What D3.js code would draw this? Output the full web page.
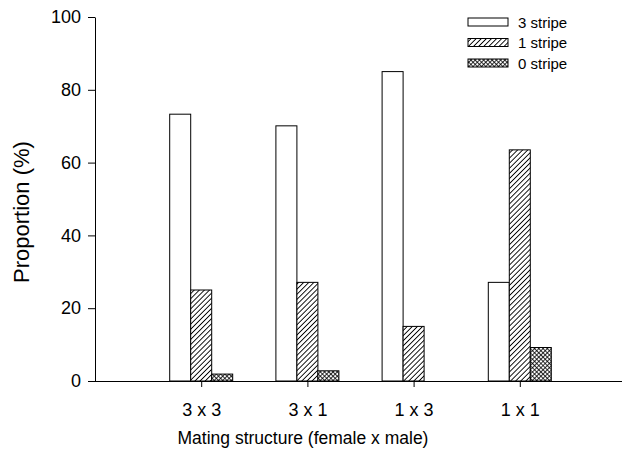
<!DOCTYPE html>
<html><head><meta charset="utf-8">
<script src="https://cdn.jsdelivr.net/npm/d3@7"></script>
<style>body{margin:0;background:#fff}svg{display:block}text{font-family:"Liberation Sans",Arial,sans-serif;fill:#000}</style>
</head><body><svg id="c" width="626" height="457"></svg>
<script>
const categories = ["3 x 3", "3 x 1", "1 x 3", "1 x 1"];
const seriesNames = ["3 stripe", "1 stripe", "0 stripe"];
const threeStripe = [73.3, 70.1, 85.0, 27.1];
const oneStripe = [25.0, 27.1, 15.0, 63.5];
const zeroStripe = [1.9, 2.8, 0, 9.2];
const yTicks = [0, 20, 40, 60, 80, 100];

const series = [threeStripe, oneStripe, zeroStripe];
const fills = ["#fff", "url(#hatch)", "url(#cross)"];

const svg = d3.select("#c");
const defs = svg.append("defs");
const h = defs.append("pattern").attr("id","hatch").attr("patternUnits","userSpaceOnUse")
  .attr("width",3.6).attr("height",3.6).attr("patternTransform","rotate(45)");
h.append("rect").attr("width",3.6).attr("height",3.6).attr("fill","#fff");
h.append("line").attr("x1",0).attr("y1",0).attr("x2",0).attr("y2",3.6).attr("stroke","#000").attr("stroke-width",1.8);
const c = defs.append("pattern").attr("id","cross").attr("patternUnits","userSpaceOnUse")
  .attr("width",3).attr("height",3).attr("patternTransform","rotate(45)");
c.append("rect").attr("width",3).attr("height",3).attr("fill","#fff");
c.append("line").attr("x1",0).attr("y1",0).attr("x2",0).attr("y2",3).attr("stroke","#000").attr("stroke-width",1.6);
c.append("line").attr("x1",0).attr("y1",0).attr("x2",3).attr("y2",0).attr("stroke","#000").attr("stroke-width",1.6);

const x0 = 95, x1 = 626, yTop = 17, yBot = 381;
const x = d3.scalePoint().domain(categories).range([x0, x1]).padding(1);
const y = d3.scaleLinear().domain([0, 100]).range([yBot, yTop]);
const barW = 21;
const sub = d3.scaleBand().domain(seriesNames).range([-barW*1.5, barW*1.5]);

// bars
series.forEach((vals, si) => {
  const data = vals.map((v, i) => ({v, cat: categories[i]})).filter(d => d.v > 0);
  svg.append("g").selectAll("rect").data(data).join("rect")
    .attr("x", d => x(d.cat) + sub(seriesNames[si]))
    .attr("y", d => y(d.v))
    .attr("width", sub.bandwidth())
    .attr("height", d => y(0) - y(d.v))
    .attr("fill", fills[si]).attr("stroke","#000").attr("stroke-width",1);
});

// axes
const ya = svg.append("g").attr("transform",`translate(${x0},0)`)
  .call(d3.axisLeft(y).tickValues(yTicks).tickSize(7).tickPadding(7).tickSizeOuter(0));
ya.select(".domain").attr("stroke","#000");
ya.selectAll("text").style("font-size","18px");
const xa = svg.append("g").attr("transform",`translate(0,${yBot})`)
  .call(d3.axisBottom(x).tickSize(6).tickPadding(16).tickSizeOuter(0));
xa.select(".domain").attr("stroke","#000").attr("d",`M${x0},0.5H${x1-4}`);
xa.selectAll("text").style("font-size","18px");

// titles
svg.append("text").attr("x",303).attr("y",444).attr("text-anchor","middle")
  .style("font-size","17.5px").text("Mating structure (female x male)");
svg.append("text").attr("transform","translate(29,212) rotate(-90)").attr("text-anchor","middle")
  .style("font-size","22px").text("Proportion (%)");

// legend
const lg = svg.append("g");
seriesNames.forEach((n, i) => {
  const cy = 22 + i*20.5;
  lg.append("rect").attr("x",468).attr("y",cy-4).attr("width",40).attr("height",8)
    .attr("fill",fills[i]).attr("stroke","#000").attr("stroke-width",1);
  lg.append("text").attr("x",518).attr("y",cy+5.5).style("font-size","15px").text(n);
});
</script></body></html>
